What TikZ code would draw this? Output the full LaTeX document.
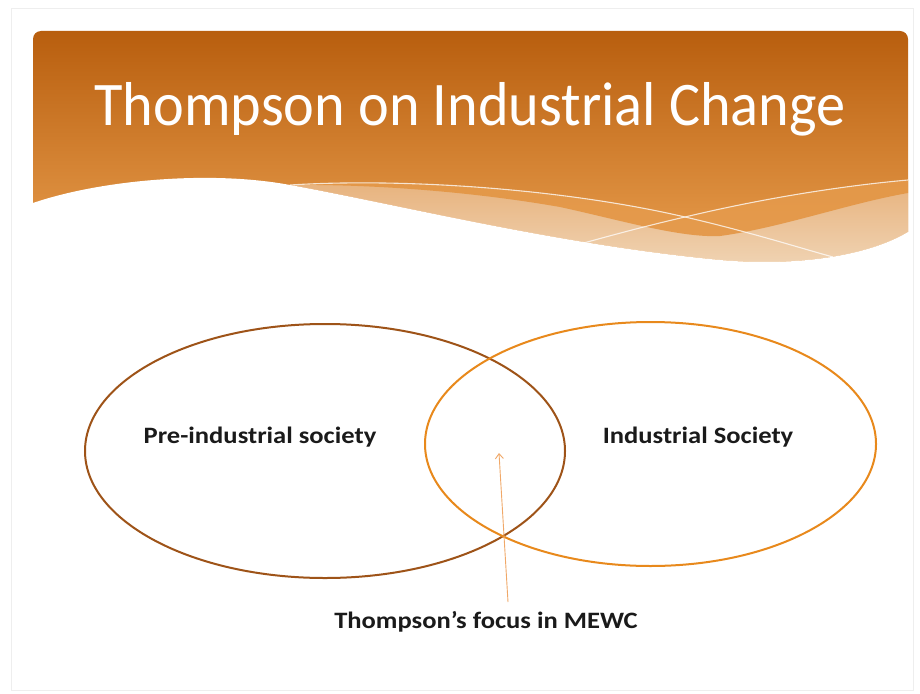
\documentclass[tikz,border=0pt]{standalone}
\usepackage{fontspec}
\setmainfont{Carlito}
\usetikzlibrary{shapes.geometric,arrows.meta}
\definecolor{hdrtop}{HTML}{B85E0E}
\definecolor{hdrbot}{HTML}{EAA050}
\definecolor{lighttop}{HTML}{E7B17B}
\definecolor{lightbot}{HTML}{F0D4B4}
\definecolor{ribbon}{HTML}{E3933F}
\definecolor{preline}{HTML}{9E5318}
\definecolor{indline}{HTML}{E8891C}
\definecolor{arrowc}{HTML}{F0A868}
\definecolor{labelc}{HTML}{1A1A1A}
\definecolor{framec}{HTML}{EEEEEE}
\newcommand{\lbltext}[1]{\scalebox{1.13}[1]{#1}}
\begin{document}
\begin{tikzpicture}[x=1pt,y=-1pt,
  setlabel/.style={font=\fontsize{23.5}{27}\selectfont\bfseries, text=labelc, anchor=base, inner sep=0pt},
  setellipse/.style={ellipse, draw, line width=2pt, inner sep=0pt},
  waveline/.style={draw=white, draw opacity=0.75, line width=1.1pt}]
\useasboundingbox (0,0) rectangle (920,693);
\fill[white] (0,0) rectangle (920,693);
\draw[framec, line width=0.8pt] (11,8) rectangle (913,690);
% header
\shade[top color=hdrtop, bottom color=hdrbot, rounded corners=8pt] (33,31) rectangle (908,266);
% light region
\shade[top color=lighttop, bottom color=lightbot]
  (290,185) .. controls (400,178) and (560,188) .. (685,217)
  .. controls (760,199) and (840,186) .. (908,180)
  -- (908,232) .. controls (870,255) and (800,267) .. (720,260)
  .. controls (560,245) and (400,205) .. (290,185) -- cycle;
% ribbon
\fill[ribbon, fill opacity=0.85]
  (290,185) .. controls (400,178) and (560,188) .. (685,217)
  .. controls (760,199) and (840,186) .. (908,180)
  -- (908,193) .. controls (850,203) and (780,228) .. (720,236)
  .. controls (680,238) and (620,220) .. (560,207)
  .. controls (480,193) and (380,184) .. (290,185) -- cycle;
% thin lines
\draw[waveline] (290,185) .. controls (400,178) and (560,188) .. (685,217)
  .. controls (750,232) and (800,248) .. (833,257);
\draw[waveline] (580,244) .. controls (620,233) and (650,225) .. (685,217)
  .. controls (760,199) and (840,186) .. (908,180);
% white area below the wave
\fill[white] (25,203) -- (33,203) .. controls (100,180) and (210,170) .. (290,185)
  .. controls (400,205) and (560,245) .. (720,260)
  .. controls (800,267) and (870,255) .. (908,232)
  -- (911,232) -- (911,270) -- (25,270) -- cycle;
% title
\node[font=\fontsize{62}{66}\selectfont, text=white, anchor=base, inner sep=0pt] (title) at (470,125) {\scalebox{0.94}[1]{Thompson on Industrial Change}};
% ellipses
\node[setellipse, draw=preline, minimum width=480pt, minimum height=254pt] (pre) at (325,451) {};
\node[setellipse, draw=indline, minimum width=451pt, minimum height=244pt] (ind) at (650.5,444) {};
% labels
\node[setlabel] (prelabel) at (260,443) {\lbltext{Pre-industrial society}};
\node[setlabel] (indlabel) at (698,443) {\lbltext{Industrial Society}};
\node[setlabel] (focus) at (486,628) {\lbltext{Thompson’s focus in MEWC}};
% arrow
\coordinate (tail) at (508,602);
\coordinate (tip) at (499,453);
\draw[arrowc, line width=0.9pt, -{Straight Barb[length=5pt,width=8pt]}] (tail) -- (tip);
\end{tikzpicture}
\end{document}
